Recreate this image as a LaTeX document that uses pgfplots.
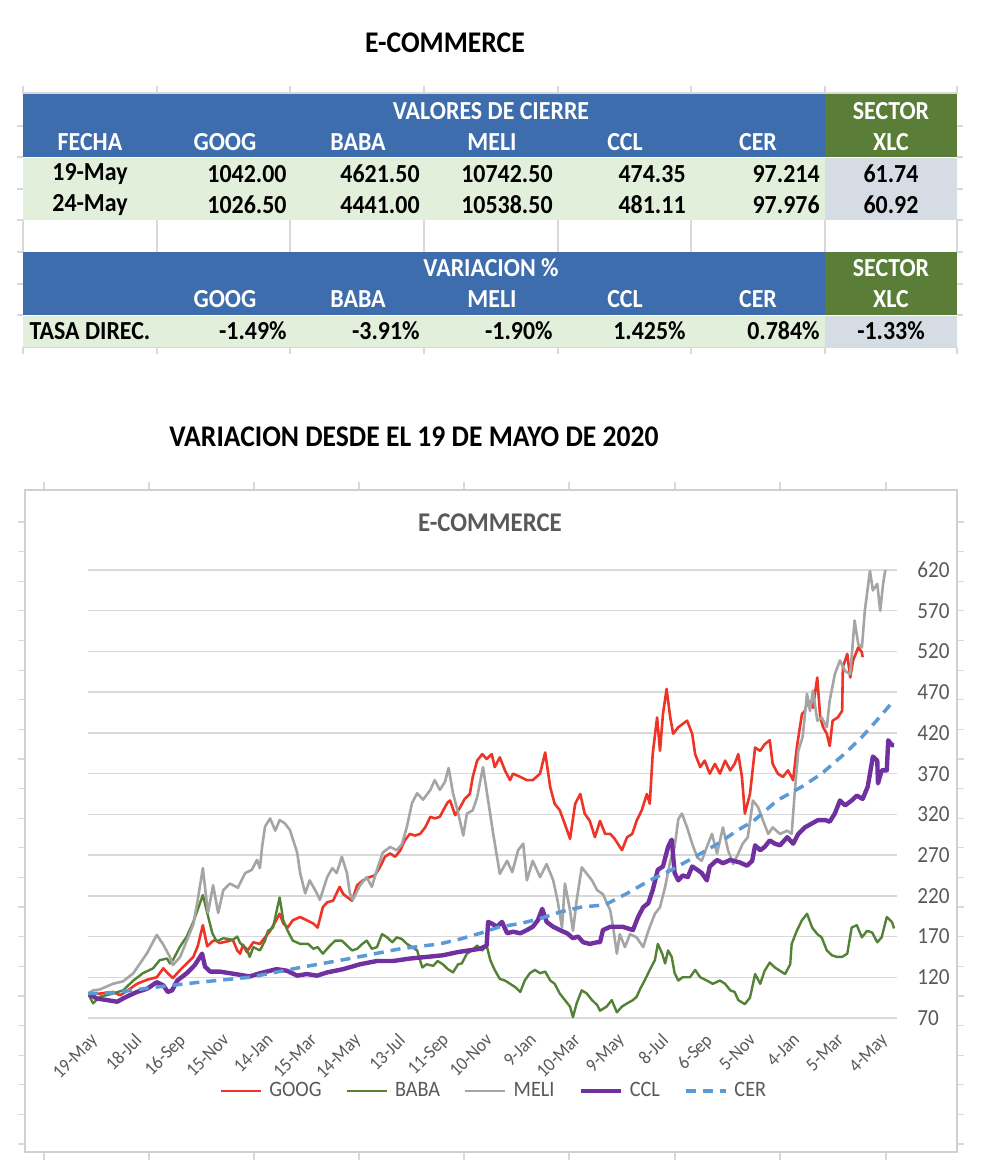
\documentclass[border=0pt]{standalone}
\usepackage{fontspec}
\usepackage{pgfplots}
\pgfplotsset{compat=1.18}
\setmainfont{Carlito}[FakeStretch=0.92]
\definecolor{tblue}{HTML}{3D6DAD}
\definecolor{tgreen}{HTML}{5A7E38}
\definecolor{lgreen}{HTML}{E2EFDA}
\definecolor{lgray}{HTML}{D6DCE4}
\definecolor{gridc}{HTML}{D9D9D9}
\definecolor{framec}{HTML}{D0D0D0}
\definecolor{txtgray}{HTML}{595959}
\definecolor{googc}{HTML}{EE3426}
\definecolor{babac}{HTML}{548235}
\definecolor{melic}{HTML}{A5A5A5}
\definecolor{cclc}{HTML}{7030A0}
\definecolor{cerc}{HTML}{5B9BD5}
\newcommand\chartfont{\fontsize{11}{13}\selectfont}
\newcommand\ylabfont{\fontsize{11.5}{13}\selectfont}
\newcommand\xlabfont{\fontsize{9.5}{11}\selectfont}
\newcommand\tabfont{\fontsize{13}{15}\selectfont\bfseries}
\begin{document}
\begin{tikzpicture}
\path[use as bounding box, fill=white] (0,0) rectangle (490pt,-585pt);
\begin{scope}[x=0.5pt,y=-0.5pt]
% ---- top title
\node[font=\fontsize{15}{18}\selectfont\bfseries] at (445,43) {E-COMMERCE};
% ---- spreadsheet marks around table
\foreach \x in {23,157,290,424,558,691,825,957}{
  \draw[gridc, line width=0.6pt] (\x,86) -- (\x,94);
  \draw[gridc, line width=0.6pt] (\x,220) -- (\x,252);
  \draw[gridc, line width=0.6pt] (\x,347) -- (\x,354);
}
\draw[gridc, line width=0.6pt] (23,93) -- (957,93);
\draw[gridc, line width=0.6pt] (23,347.5) -- (957,347.5);
\foreach \y in {126,157,189,220,252,284,315}{
  \draw[gridc, line width=0.6pt] (17,\y) -- (23,\y);
  \draw[gridc, line width=0.6pt] (957,\y) -- (963,\y);
}
% ---- table fills
\fill[tblue] (23,94) rectangle (825,157);
\fill[tgreen] (825,94) rectangle (957,157);
\fill[lgreen] (23,158) rectangle (825,220);
\fill[lgray] (825,158) rectangle (957,220);
\fill[tblue] (23,252) rectangle (825,315);
\fill[tgreen] (825,252) rectangle (957,315);
\fill[lgreen] (23,316) rectangle (825,347);
\fill[lgray] (825,316) rectangle (957,347);
% ---- table text
\begin{scope}[every node/.style={font=\tabfont, inner sep=0pt}]
\node[white] at (491,111) {VALORES DE CIERRE};
\node[white] at (891,111) {SECTOR};
\node[white] at (90,142) {FECHA};
\node[white] at (225,142) {GOOG};
\node[white] at (358,142) {BABA};
\node[white] at (492,142) {MELI};
\node[white] at (625,142) {CCL};
\node[white] at (758,142) {CER};
\node[white] at (891,142) {XLC};
\node at (90,174) {19-May};
\node[anchor=east] at (287,174) {1042.00};
\node[anchor=east] at (420,174) {4621.50};
\node[anchor=east] at (553,174) {10742.50};
\node[anchor=east] at (686,174) {474.35};
\node[anchor=east] at (820,174) {97.214};
\node at (891,174) {61.74};
\node at (90,205) {24-May};
\node[anchor=east] at (287,205) {1026.50};
\node[anchor=east] at (420,205) {4441.00};
\node[anchor=east] at (553,205) {10538.50};
\node[anchor=east] at (686,205) {481.11};
\node[anchor=east] at (820,205) {97.976};
\node at (891,205) {60.92};
\node[white] at (491,268) {VARIACION \%};
\node[white] at (891,268) {SECTOR};
\node[white] at (225,299) {GOOG};
\node[white] at (358,299) {BABA};
\node[white] at (492,299) {MELI};
\node[white] at (625,299) {CCL};
\node[white] at (758,299) {CER};
\node[white] at (891,299) {XLC};
\node at (90,331) {TASA DIREC.};
\node[anchor=east] at (287,331) {-1.49\%};
\node[anchor=east] at (420,331) {-3.91\%};
\node[anchor=east] at (553,331) {-1.90\%};
\node[anchor=east] at (686,331) {1.425\%};
\node[anchor=east] at (820,331) {0.784\%};
\node at (891,331) {-1.33\%};
\end{scope}
% ---- second title
\node[font=\fontsize{15}{18}\selectfont\bfseries] at (414,437) {VARIACION DESDE EL 19 DE MAYO DE 2020};
% ---- spreadsheet marks around chart
\foreach \x in {44,149,254,359,464,569,675,780,886}{
  \draw[gridc, line width=0.6pt] (\x,482) -- (\x,490);
  \draw[gridc, line width=0.6pt] (\x,1152) -- (\x,1160);
}
\foreach \i in {0,...,21}{
  \draw[gridc, line width=0.6pt] (18,522+29.62*\i) -- (25,522+29.62*\i);
  \draw[gridc, line width=0.6pt] (957,522+29.62*\i) -- (964,522+29.62*\i);
}
% ---- chart frame
\draw[framec, line width=0.7pt, fill=white] (25,490) rectangle (957,1152);
\node[font=\fontsize{13.5}{16}\selectfont\bfseries, text=txtgray] at (490,523) {E-COMMERCE};
\end{scope}
\begin{axis}[
  at={(44pt,-509pt)}, anchor=south west,
  scale only axis, width=404.5pt, height=224pt,
  xmin=0, xmax=1106, ymin=70, ymax=620,
  axis line style={draw=none},
  major tick length=0pt,
  ymajorgrids, grid style={draw=gridc, line width=0.75pt},
  ytick={70,120,...,620},
  yticklabel pos=right,
  /pgf/number format/assume math mode=true,
  yticklabel style={anchor=west, inner sep=0pt, xshift=10pt, font=\ylabfont, text=txtgray},
  xtick={0,60,...,1080},
  xticklabels={19-May,18-Jul,16-Sep,15-Nov,14-Jan,15-Mar,14-May,13-Jul,11-Sep,10-Nov,9-Jan,10-Mar,9-May,8-Jul,6-Sep,5-Nov,4-Jan,5-Mar,4-May},
  xticklabel style={xshift=0.8pt, yshift=-7pt, rotate=45, anchor=north east, inner sep=0pt, font=\xlabfont, text=txtgray},
  legend columns=5,
  legend style={at={(0.503,-0.163)}, anchor=center, draw=none, fill=none, font=\chartfont, text=txtgray,
    /tikz/every odd column/.append style={column sep=1.5pt},
    /tikz/every even column/.append style={column sep=10pt}},
  legend image code/.code={\draw[#1] (0pt,0pt) -- (20pt,0pt);},
  every axis plot/.append style={line join=round},
]
\addplot[googc, line width=1.3pt] coordinates {(0,100)(16,100)(34,102)(44,98)(53,103)(67,112)(81,117)(94,120)(103,131)(109,125)(116,119)(126,129)(135,137)(144,145)(150,158)(157,184)(163,158)(170,164)(174,166)(180,162)(190,164)(198,166)(204,153)(208,149)(212,160)(217,151)(226,163)(235,161)(242,169)(249,177)(256,188)(262,198)(267,186)(273,181)(280,190)(290,194)(299,190)(308,186)(314,181)(321,206)(327,212)(335,214)(344,231)(349,222)(355,218)(361,214)(368,233)(376,239)(385,243)(392,245)(399,255)(406,268)(413,272)(420,268)(427,276)(433,288)(440,296)(447,294)(454,296)(461,304)(468,317)(474,315)(481,317)(488,329)(492,335)(495,337)(502,319)(509,329)(515,339)(522,345)(526,366)(532,386)(539,394)(545,388)(552,394)(556,378)(563,390)(570,374)(577,362)(581,370)(591,366)(600,362)(608,362)(618,370)(625,396)(632,353)(638,333)(645,325)(652,308)(659,290)(666,333)(673,345)(679,321)(686,312)(693,292)(700,312)(707,296)(714,296)(720,290)(730,276)(737,292)(744,296)(750,312)(757,325)(764,345)(768,333)(772,394)(778,439)(782,398)(786,443)(791,474)(796,439)(800,419)(807,427)(813,431)(819,435)(826,419)(830,394)(837,378)(843,386)(850,370)(857,382)(864,370)(871,386)(878,374)(884,382)(889,394)(894,366)(898,321)(905,345)(912,402)(919,398)(925,406)(932,411)(936,382)(943,370)(950,366)(957,374)(964,362)(969,402)(976,443)(980,447)(984,460)(991,451)(997,488)(1001,439)(1005,427)(1010,419)(1014,404)(1018,435)(1025,439)(1031,447)(1032,501)(1038,517)(1042,488)(1046,509)(1053,525)(1058,519)(1059,513)};
\addlegendentry{GOOG}
\addplot[babac, line width=1.2pt] coordinates {(0,100)(7,88)(16,96)(34,100)(48,104)(62,116)(75,125)(89,131)(98,141)(108,143)(112,137)(116,141)(126,158)(135,170)(144,188)(150,203)(157,221)(163,199)(170,174)(176,164)(185,168)(198,166)(204,170)(208,162)(217,155)(221,145)(226,157)(235,153)(242,165)(246,177)(253,181)(258,202)(262,218)(267,190)(273,177)(280,165)(290,161)(301,161)(308,155)(314,157)(321,149)(331,159)(338,165)(347,165)(354,159)(361,153)(368,155)(375,161)(381,165)(388,155)(395,157)(402,173)(409,169)(416,163)(422,169)(429,167)(436,161)(443,157)(450,153)(457,132)(463,136)(472,134)(478,140)(485,136)(492,130)(499,126)(506,136)(511,137)(518,149)(525,153)(532,159)(539,153)(545,159)(550,141)(556,129)(563,118)(570,116)(577,112)(584,108)(591,102)(597,116)(604,125)(611,129)(618,125)(625,127)(632,116)(638,112)(645,100)(652,92)(659,84)(663,71)(668,88)(675,104)(682,100)(689,92)(696,86)(700,79)(709,84)(716,92)(723,77)(730,84)(737,88)(745,92)(750,96)(755,106)(761,116)(768,129)(775,141)(779,161)(785,149)(789,137)(793,153)(798,145)(802,125)(807,116)(813,120)(823,120)(830,129)(837,120)(846,116)(854,112)(864,116)(871,112)(878,104)(884,102)(889,92)(898,87)(905,95)(912,124)(919,112)(925,128)(932,138)(939,132)(946,128)(953,124)(960,136)(962,161)(969,177)(976,190)(983,198)(990,181)(997,173)(1003,169)(1010,153)(1017,147)(1024,145)(1031,145)(1038,149)(1044,181)(1051,184)(1058,169)(1065,177)(1072,175)(1079,163)(1085,169)(1092,194)(1099,188)(1102,180)};
\addlegendentry{BABA}
\addplot[melic, line width=1.3pt] coordinates {(0,100)(7,104)(16,105)(34,112)(48,115)(62,125)(81,150)(94,172)(103,160)(112,145)(116,135)(126,145)(135,165)(144,185)(150,215)(157,254)(164,199)(171,233)(178,199)(185,227)(194,235)(205,230)(215,248)(224,252)(231,264)(235,254)(238,280)(242,305)(249,315)(256,300)(262,313)(269,309)(276,301)(286,273)(290,248)(297,223)(303,239)(313,223)(317,215)(327,243)(334,254)(340,248)(347,268)(354,248)(358,223)(362,215)(372,233)(381,243)(388,231)(395,252)(403,273)(413,280)(422,276)(429,283)(436,305)(443,334)(450,346)(458,338)(468,350)(474,362)(481,350)(488,360)(493,377)(499,346)(506,322)(513,294)(518,321)(526,325)(532,341)(540,378)(545,349)(554,296)(563,247)(573,263)(580,249)(588,276)(595,284)(600,239)(608,263)(618,243)(627,259)(636,239)(642,214)(648,181)(652,235)(659,202)(663,177)(668,214)(675,255)(682,247)(689,239)(696,227)(704,222)(714,202)(718,181)(723,149)(727,173)(734,157)(741,173)(750,169)(759,157)(766,177)(775,198)(782,206)(789,231)(796,263)(802,280)(807,314)(812,321)(819,304)(826,284)(833,267)(839,263)(846,280)(853,296)(860,272)(868,304)(875,276)(882,259)(889,272)(895,284)(902,292)(909,337)(916,329)(923,312)(930,296)(936,304)(946,296)(956,300)(962,296)(966,345)(971,398)(977,415)(983,468)(987,447)(991,472)(997,435)(1003,439)(1010,427)(1014,460)(1021,492)(1028,509)(1035,496)(1042,492)(1048,558)(1053,529)(1058,525)(1062,570)(1069,619)(1073,595)(1079,603)(1083,570)(1087,603)(1090,620)(1096,632)};
\addlegendentry{MELI}
\addplot[cclc, line width=2.2pt] coordinates {(0,100)(12,94)(26,92)(40,90)(48,94)(57,98)(67,102)(81,106)(94,114)(103,110)(109,102)(115,104)(122,116)(135,125)(146,135)(156,149)(160,133)(167,127)(180,127)(194,125)(208,123)(221,121)(235,125)(258,130)(272,128)(286,122)(299,124)(313,122)(327,126)(349,130)(372,136)(395,140)(417,140)(440,143)(463,145)(485,147)(506,151)(536,155)(545,159)(547,188)(552,186)(559,182)(566,188)(573,174)(581,176)(591,174)(600,178)(608,182)(615,190)(621,204)(627,188)(636,182)(645,178)(655,174)(663,168)(670,170)(677,163)(686,161)(696,163)(700,163)(704,178)(714,182)(731,182)(745,178)(752,194)(759,206)(766,211)(772,227)(779,252)(786,256)(793,280)(798,289)(802,248)(807,239)(813,245)(820,243)(826,256)(833,252)(839,248)(846,239)(850,256)(860,264)(868,260)(878,264)(891,261)(901,257)(908,263)(912,282)(919,276)(925,280)(932,288)(939,284)(946,282)(956,292)(964,284)(971,296)(980,304)(990,309)(998,313)(1008,313)(1014,311)(1021,321)(1028,337)(1035,331)(1044,337)(1051,343)(1059,339)(1066,354)(1073,391)(1079,386)(1080,358)(1085,374)(1092,374)(1094,411)(1099,405)(1102,405)};
\addlegendentry{CCL}
\addplot[cerc, line width=1.75pt, dash pattern=on 5pt off 3.5pt] coordinates {(0,100)(34,101)(94,108)(153,114)(221,120)(290,132)(358,143)(427,155)(454,158)(481,161)(509,167)(536,174)(563,182)(591,186)(618,192)(645,200)(673,206)(707,209)(737,223)(768,239)(798,252)(830,268)(861,284)(889,301)(910,312)(942,337)(976,354)(1003,370)(1035,395)(1058,415)(1079,436)(1100,458)};
\addlegendentry{CER}
\end{axis}
\end{tikzpicture}
\end{document}
